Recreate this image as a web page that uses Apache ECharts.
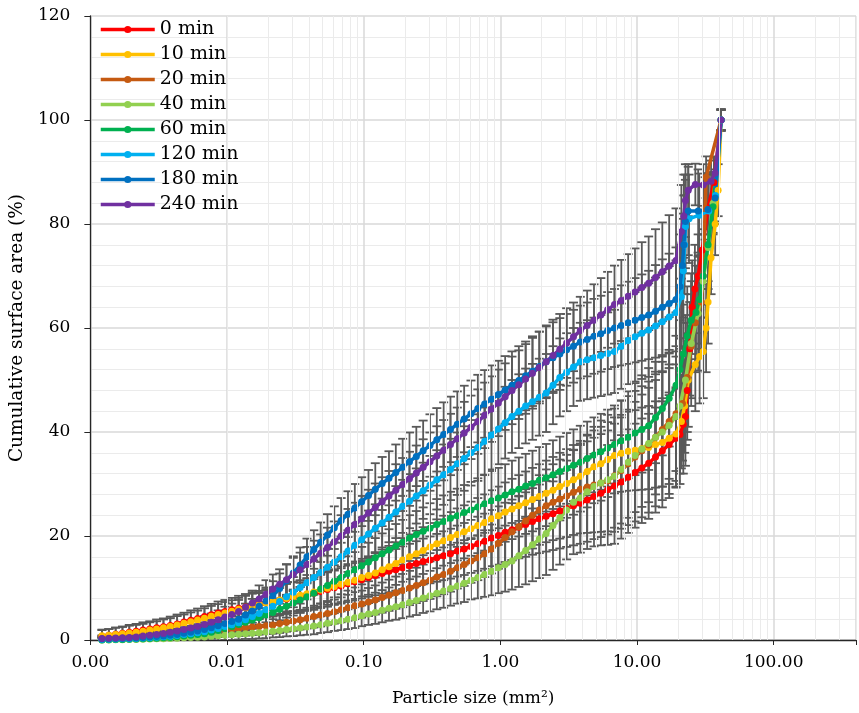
<!DOCTYPE html>
<html>
<head>
<meta charset="utf-8">
<script src="https://cdn.jsdelivr.net/npm/echarts@6/dist/echarts.min.js"></script>
<style>
  html, body { margin: 0; padding: 0; background: #fff; }
  #chart { width: 859px; height: 713px; }
</style>
</head>
<body>
<div id="chart"></div>
<script>
// particle size classes (mm2), shared by every series
var size = [
  0.001216,0.001365,0.001531,0.001718,0.001928,
  0.002163,0.002427,0.002723,0.003055,0.003428,
  0.003846,0.004315,0.004842,0.005433,0.006095,
  0.006839,0.007674,0.00861,0.009661,0.01084,
  0.01216,0.01365,0.01531,0.01718,0.01928,
  0.02163,0.02427,0.02723,0.03055,0.03428,
  0.03846,0.04315,0.04842,0.05433,0.06095,
  0.06839,0.07674,0.0861,0.09661,0.1084,
  0.1216,0.1365,0.1531,0.1718,0.1928,
  0.2163,0.2427,0.2723,0.3055,0.3428,
  0.3846,0.4315,0.4842,0.5433,0.6095,
  0.6839,0.7674,0.861,0.9661,1.084,
  1.216,1.365,1.531,1.718,1.928,
  2.163,2.427,2.723,3.055,3.428,
  3.846,4.315,4.842,5.433,6.095,
  6.839,7.674,8.61,9.661,10.84,
  12.16,13.65,15.31,17.18,19.28
];

// cumulative surface area (%)
var y0min = [
  0.7,0.9,1.1,1.3,1.5, 1.7,1.9,2.1,2.35,2.55, 2.8,3.1,3.45,3.8,4.15, 4.5,4.85,5.2,5.5,5.8,
  6.1,6.35,6.6,6.85,7.1, 7.3,7.6,7.9,8.15,8.4, 8.7,9.0,9.35,9.7,10.05, 10.4,10.8,11.2,11.6,12.0,
  12.4,12.8,13.2,13.5,13.9, 14.3,14.7,15.1,15.4,15.8, 16.2,16.6,17.1,17.5,18.0, 18.5,19.0,19.6,20.1,20.7,
  21.2,21.7,22.2,22.8,23.3, 23.8,24.3,24.8,25.3,25.8, 26.3,26.9,27.6,28.2,28.9, 29.6,30.4,31.3,32.2,33.1,
  34.0,35.2,36.4,37.6,38.8
];
var y10min = [
  0.8,0.9,1.05,1.2,1.35, 1.5,1.7,1.9,2.1,2.35, 2.6,2.9,3.2,3.5,3.85, 4.2,4.55,4.9,5.2,5.55,
  5.9,6.2,6.5,6.8,7.1, 7.4,7.7,8.0,8.3,8.6, 8.9,9.25,9.6,9.95,10.3, 10.7,11.1,11.5,12.0,12.4,
  12.9,13.5,14.1,14.7,15.4, 16.0,16.6,17.2,17.9,18.5, 19.1,19.7,20.3,20.8,21.4, 22.0,22.6,23.3,23.9,24.6,
  25.2,25.8,26.4,27.0,27.6, 28.2,28.8,29.5,30.1,30.8, 31.5,32.4,33.3,33.9,34.7, 35.5,35.9,36.3,36.5,36.8,
  37.0,37.6,38.0,38.8,39.6
];
var y20min = [
  0.2,0.24,0.28,0.32,0.36, 0.4,0.48,0.56,0.64,0.72, 0.8,0.94,1.08,1.22,1.36, 1.5,1.64,1.78,1.92,2.06,
  2.2,2.34,2.48,2.62,2.76, 2.9,3.15,3.4,3.65,3.9, 4.2,4.5,4.8,5.1,5.45, 5.8,6.2,6.6,6.9,7.3,
  7.7,8.15,8.6,9.1,9.5, 10.0,10.5,11.0,11.5,12.1, 12.6,13.2,13.9,14.5,15.2, 15.8,16.6,17.5,18.6,19.7,
  20.8,21.8,22.9,24.0,25.0, 25.8,26.5,27.1,27.7,28.4, 29.0,29.4,29.8,30.2,30.6, 31.6,32.6,33.9,35.2,36.4,
  37.5,39.0,40.5,42.0,43.5
];
var y40min = [
  0.0,0.02,0.04,0.06,0.08, 0.1,0.14,0.18,0.22,0.26, 0.3,0.36,0.42,0.48,0.54, 0.6,0.7,0.8,0.9,1.0,
  1.1,1.2,1.3,1.4,1.55, 1.7,1.85,2.0,2.15,2.3, 2.5,2.7,2.95,3.2,3.45, 3.7,4.0,4.3,4.65,5.0,
  5.3,5.7,6.1,6.4,6.8, 7.2,7.6,8.1,8.5,9.0, 9.4,9.9,10.4,10.9,11.5, 12.0,12.6,13.2,13.9,14.5,
  15.2,16.2,17.2,18.3,19.4, 20.5,22.0,23.5,25.0,26.5, 27.3,28.5,29.5,30.2,30.8, 31.5,32.8,34.2,35.5,36.7,
  37.8,39.0,40.0,41.3,43.0
];
var y60min = [
  0.0,0.04,0.08,0.12,0.16, 0.2,0.25,0.3,0.36,0.43, 0.5,0.62,0.75,0.9,1.05, 1.2,1.5,1.85,2.2,2.6,
  3.0,3.4,3.85,4.3,4.8, 5.3,5.9,6.5,7.1,7.7, 8.3,9.0,9.8,10.5,11.3, 12.0,12.8,13.5,14.3,15.0,
  15.8,16.6,17.3,18.1,18.8, 19.6,20.3,20.9,21.5,22.2, 22.8,23.4,23.9,24.5,25.0, 25.6,26.2,26.8,27.3,27.9,
  28.5,29.0,29.6,30.1,30.7, 31.2,31.8,32.4,33.0,33.6, 34.2,34.9,35.6,36.2,36.9, 37.6,38.3,39.0,39.8,40.5,
  41.2,42.8,44.5,46.5,49.0
];
var y120min = [
  0.1,0.14,0.18,0.22,0.26, 0.3,0.37,0.45,0.53,0.61, 0.7,0.86,1.04,1.22,1.4, 1.6,1.9,2.2,2.6,2.95,
  3.3,3.9,4.5,5.1,5.8, 6.5,7.4,8.3,9.2,10.1, 11.0,12.0,13.0,14.0,15.0, 16.0,17.1,18.2,19.3,20.4,
  21.5,22.5,23.6,24.6,25.7, 26.7,27.7,28.7,29.8,30.8, 31.8,32.8,33.9,34.9,36.0, 37.0,38.2,39.4,40.6,41.8,
  43.0,44.0,45.0,45.8,46.7, 47.5,49.0,50.5,51.5,52.5, 53.5,53.9,54.3,54.7,55.1, 55.5,56.5,57.6,58.3,59.0,
  59.6,60.4,61.2,62.1,63.0
];
var y180min = [
  0.2,0.23,0.27,0.3,0.35, 0.4,0.48,0.57,0.67,0.78, 0.9,1.08,1.28,1.5,1.75, 2.0,2.35,2.75,3.15,3.55,
  4.0,4.8,5.6,6.5,7.5, 8.5,9.9,11.4,12.9,14.4, 16.0,17.4,18.8,20.2,21.6, 23.0,24.2,25.4,26.6,27.8,
  29.0,30.1,31.1,32.2,33.2, 34.3,35.3,36.4,37.4,38.5, 39.5,40.5,41.5,42.5,43.5, 44.5,45.4,46.3,47.2,48.1,
  49.0,49.9,50.8,51.7,52.6, 53.5,54.3,55.0,55.8,56.5, 57.3,57.8,58.4,58.9,59.5, 60.0,60.5,61.0,61.5,62.0,
  62.5,63.2,64.0,64.7,65.5
];
var y240min = [
  0.3,0.35,0.4,0.45,0.5, 0.6,0.75,0.9,1.05,1.25, 1.5,1.75,2.0,2.3,2.6, 3.0,3.4,3.9,4.4,4.9,
  5.5,6.3,7.1,7.9,8.8, 9.8,10.7,11.6,12.6,13.5, 14.5,15.6,16.7,17.8,18.9, 20.0,21.1,22.2,23.3,24.4,
  25.5,26.6,27.7,28.8,29.9, 31.0,32.1,33.2,34.3,35.4, 36.5,37.6,38.7,39.8,40.9, 42.0,43.2,44.4,45.6,46.8,
  48.0,49.1,50.2,51.3,52.4, 53.5,54.7,55.9,57.1,58.3, 59.5,60.5,61.5,62.5,63.5, 64.5,65.3,66.1,66.9,67.8,
  68.6,69.7,70.8,71.9,73.0
];

// error bar half-widths (%), same order as the values
var e0min = [
  1.2,1.2,1.3,1.3,1.4, 1.4,1.5,1.5,1.6,1.6, 1.7,1.8,1.8,1.9,1.9, 2.0,2.1,2.2,2.2,2.3,
  2.4,2.5,2.6,2.6,2.7, 2.8,2.9,2.9,3.0,3.0, 3.1,3.2,3.2,3.3,3.3, 3.4,3.5,3.6,3.6,3.7,
  3.8,3.9,4.0,4.0,4.1, 4.2,4.3,4.4,4.5,4.6, 4.7,4.8,4.9,5.0,5.1, 5.2,5.3,5.4,5.6,5.7,
  5.8,6.0,6.2,6.4,6.6, 6.8,7.0,7.2,7.4,7.6, 7.8,8.0,8.2,8.4,8.6, 8.8,9.0,9.2,9.4,9.5,
  9.5,9.5,9.5,9.5,9.5
];
var e10min = [
  1.2,1.2,1.3,1.3,1.4, 1.4,1.4,1.5,1.5,1.6, 1.6,1.7,1.7,1.8,1.8, 1.9,2.0,2.0,2.1,2.1,
  2.2,2.3,2.4,2.4,2.5, 2.6,2.7,2.8,2.8,2.9, 3.0,3.1,3.2,3.2,3.3, 3.4,3.5,3.6,3.6,3.7,
  3.8,3.9,4.0,4.1,4.2, 4.3,4.4,4.5,4.6,4.7, 4.8,4.9,5.0,5.1,5.2, 5.3,5.4,5.5,5.6,5.7,
  5.8,5.9,6.0,6.1,6.2, 6.3,6.4,6.5,6.6,6.7, 6.8,6.9,7.0,7.1,7.2, 7.3,7.4,7.6,7.7,7.9,
  8.0,8.3,8.5,8.8,9.0
];
var e20min = [
  0.5,0.5,0.6,0.6,0.7, 0.7,0.7,0.8,0.8,0.9, 0.9,0.9,1.0,1.0,1.1, 1.1,1.2,1.2,1.3,1.3,
  1.4,1.5,1.5,1.6,1.6, 1.7,1.8,1.8,1.9,1.9, 2.0,2.1,2.2,2.2,2.3, 2.4,2.5,2.6,2.6,2.7,
  2.8,2.9,3.0,3.1,3.2, 3.3,3.4,3.5,3.6,3.7, 3.8,3.9,4.0,4.1,4.2, 4.3,4.5,4.7,4.9,5.2,
  5.5,5.8,6.1,6.4,6.7, 7.0,7.3,7.6,7.9,8.2, 8.5,8.8,9.1,9.4,9.7, 10.0,10.2,10.4,10.6,10.8,
  11.0,11.0,11.0,11.0,11.0
];
var e40min = [
  0.4,0.4,0.4,0.5,0.5, 0.5,0.5,0.6,0.6,0.6, 0.6,0.7,0.7,0.7,0.8, 0.8,0.8,0.9,0.9,1.0,
  1.0,1.0,1.1,1.1,1.2, 1.2,1.3,1.3,1.4,1.4, 1.5,1.6,1.6,1.7,1.7, 1.8,1.9,2.0,2.0,2.1,
  2.2,2.3,2.4,2.5,2.6, 2.7,2.8,2.9,3.0,3.1, 3.2,3.3,3.4,3.6,3.7, 4.0,4.3,4.6,4.9,5.2,
  5.5,6.0,6.5,7.0,7.5, 8.0,8.5,9.0,9.5,10.0, 10.5,11.0,11.5,12.0,12.5, 13.0,13.3,13.6,13.9,14.2,
  14.5,14.5,14.5,14.0,13.5
];
var e60min = [
  0.4,0.4,0.5,0.5,0.6, 0.6,0.6,0.7,0.7,0.8, 0.8,0.9,0.9,1.0,1.0, 1.1,1.2,1.3,1.3,1.4,
  1.5,1.6,1.7,1.8,1.9, 2.0,2.1,2.2,2.4,2.5, 2.6,2.7,2.8,3.0,3.1, 3.2,3.3,3.4,3.6,3.7,
  3.8,3.9,4.0,4.2,4.3, 4.4,4.5,4.6,4.8,4.9, 5.0,5.1,5.2,5.3,5.4, 5.5,5.6,5.7,5.8,5.9,
  6.0,6.1,6.2,6.3,6.4, 6.5,6.6,6.7,6.8,6.9, 7.0,7.1,7.2,7.3,7.4, 7.5,7.7,7.9,8.1,8.3,
  8.5,8.8,9.0,9.3,9.5
];
var e120min = [
  0.4,0.4,0.5,0.5,0.6, 0.6,0.7,0.7,0.8,0.8, 0.9,1.0,1.1,1.1,1.2, 1.3,1.4,1.5,1.6,1.7,
  1.8,1.9,2.1,2.2,2.4, 2.5,2.6,2.8,2.9,3.1, 3.2,3.3,3.5,3.6,3.8, 3.9,4.0,4.2,4.3,4.5,
  4.6,4.7,4.8,5.0,5.1, 5.2,5.3,5.4,5.6,5.7, 5.8,5.9,6.0,6.2,6.3, 6.4,6.5,6.6,6.8,6.9,
  7.0,7.1,7.2,7.3,7.4, 7.5,7.5,7.5,7.5,7.5, 7.5,7.6,7.7,7.8,7.9, 8.0,8.2,8.4,8.6,8.8,
  9.0,9.3,9.5,9.8,10.0
];
var e180min = [
  0.5,0.5,0.6,0.6,0.7, 0.7,0.8,0.8,0.9,0.9, 1.0,1.1,1.2,1.2,1.3, 1.4,1.5,1.6,1.8,1.9,
  2.0,2.2,2.3,2.5,2.6, 2.8,2.9,3.1,3.2,3.4, 3.5,3.7,3.8,4.0,4.1, 4.3,4.4,4.6,4.7,4.9,
  5.0,5.1,5.2,5.4,5.5, 5.6,5.7,5.8,6.0,6.1, 6.2,6.3,6.3,6.4,6.4, 6.5,6.5,6.5,6.5,6.5,
  6.5,6.6,6.6,6.7,6.7, 6.8,6.8,6.9,6.9,7.0, 7.0,7.1,7.2,7.3,7.4, 7.5,7.7,7.9,8.1,8.3,
  8.5,8.9,9.2,9.6,10.0
];
var e240min = [
  0.6,0.6,0.7,0.7,0.8, 0.8,0.9,1.0,1.0,1.1, 1.2,1.3,1.4,1.4,1.5, 1.6,1.7,1.8,2.0,2.1,
  2.2,2.3,2.4,2.6,2.7, 2.8,2.9,3.0,3.2,3.3, 3.4,3.5,3.6,3.8,3.9, 4.0,4.1,4.2,4.4,4.5,
  4.6,4.7,4.8,5.0,5.1, 5.2,5.3,5.4,5.6,5.7, 5.8,5.9,6.0,6.0,6.1, 6.2,6.3,6.3,6.4,6.4,
  6.5,6.6,6.7,6.8,6.9, 7.0,6.9,6.8,6.7,6.6, 6.5,6.7,6.9,7.1,7.3, 7.5,7.8,8.1,8.4,8.7,
  9.0,9.3,9.5,9.8,10.0
];

// coarse particles at the top end: [size, cumulative %], with their error half-widths
var tail0min = [[20.6,39.5],[21.8,41.5],[22.6,43],[23.3,48],[24.3,56],[25.3,64],[26.5,67.5],[28.0,70],[30.0,75],[33.0,83],[36.5,88],[41.2,100]];
var tailErr0min = [9.5,9.5,9.5,9.5,9,9,8.5,8,7.5,6.5,5,2];
var tail10min = [[21.1,42],[22.3,45],[23.7,50],[26.7,53],[28.7,54.5],[30.5,55.5],[32.0,60],[33.1,65],[34.8,73.5],[37.3,80],[39.2,86.5],[41.2,100]];
var tailErr10min = [9,9,9,9,9,9,8.5,8,7,6,5,2];
var tail20min = [[21.5,45.5],[23.3,50.5],[24.9,56.5],[26.7,61],[29.5,65],[30.5,70],[31.5,83],[32.0,89],[41.2,100]];
var tailErr20min = [11,10.5,10,9.5,9,8,6,4,2];
var tail40min = [[20.6,45],[22.6,50],[24.9,57],[28.0,62.8],[30.5,69],[33.1,75.5],[36.0,84],[41.2,100]];
var tailErr40min = [13,12.5,12,11,10,8,6,2];
var tail60min = [[20.6,52],[21.8,55],[23.3,58.5],[24.9,61.5],[27.0,63],[28.7,65.5],[30.5,70],[33.1,76],[36.0,83.3],[41.2,100]];
var tailErr60min = [9.5,9.5,9.5,9,9,8.5,8,7,5,2];
var tail120min = [[21.1,66],[21.8,71],[22.3,76],[22.6,79.5],[24.0,81],[28.5,81.7],[33.5,82.5],[37.5,85.5],[41.2,100]];
var tailErr120min = [10,10,9.5,9,8.5,8,7,5,2];
var tail180min = [[20.6,68],[21.5,72],[22.0,76],[22.6,80.5],[23.7,82.5],[28.0,82.5],[33.0,82.8],[37.3,85],[41.2,100]];
var tailErr180min = [10,10,9.5,9,8.5,8,7,5,2];
var tail240min = [[21.1,78.5],[22.0,81.5],[22.6,84.5],[23.7,86.5],[26.7,87.6],[30.5,87.5],[34.8,88.2],[37.3,89.8],[41.2,100]];
var tailErr240min = [9,8,7,5,4,4,4,3,2];

var names = ['0 min', '10 min', '20 min', '40 min', '60 min', '120 min', '180 min', '240 min'];
var colors = ['#FF0000', '#FFC000', '#C55A11', '#92D050', '#00B050', '#00B0F0', '#0070C0', '#7030A0'];
var values = [y0min, y10min, y20min, y40min, y60min, y120min, y180min, y240min];
var errors = [e0min, e10min, e20min, e40min, e60min, e120min, e180min, e240min];
var tails = [tail0min, tail10min, tail20min, tail40min, tail60min, tail120min, tail180min, tail240min];
var tailErrs = [tailErr0min, tailErr10min, tailErr20min, tailErr40min, tailErr60min, tailErr120min, tailErr180min, tailErr240min];

var serif = 'DejaVu Serif';

// minor vertical grid lines of the log axis (2..9 in every decade)
var minorX = [];
for (var d = -3; d <= 2; d++) {
  for (var m = 2; m <= 9; m++) {
    var v = m * Math.pow(10, d);
    if (v <= 400.0001) minorX.push({ xAxis: v });
  }
}

var series = [];
var bars = [];
series.push({
  type: 'line',
  name: 'minor',
  data: [],
  z: 0,
  silent: true,
  markLine: {
    silent: true,
    symbol: ['none', 'none'],
    label: { show: false },
    lineStyle: { color: '#EBEBEB', width: 1, type: 'solid' },
    emphasis: { disabled: true },
    animation: false,
    data: minorX
  }
});

for (var i = 0; i < names.length; i++) {
  var pts = [];
  for (var k = 0; k < size.length; k++) {
    pts.push([size[k], values[i][k]]);
    bars.push([size[k], values[i][k] - errors[i][k], values[i][k] + errors[i][k]]);
  }
  for (var t = 0; t < tails[i].length; t++) {
    pts.push(tails[i][t]);
    bars.push([tails[i][t][0], tails[i][t][1] - tailErrs[i][t], tails[i][t][1] + tailErrs[i][t]]);
  }
  series.push({
    type: 'line',
    name: names[i],
    data: pts,
    symbol: 'circle',
    symbolSize: 7,
    color: colors[i],
    lineStyle: { width: 3.5, color: colors[i] },
    itemStyle: { color: colors[i] },
    emphasis: { disabled: true },
    z: 3
  });
}

series.push({
  type: 'custom',
  name: 'error',
  data: bars,
  encode: { x: 0, y: [1, 2] },
  clip: true,
  silent: true,
  z: 2,
  renderItem: function (params, api) {
    var top = api.coord([api.value(0), api.value(2)]);
    var bot = api.coord([api.value(0), api.value(1)]);
    var cw = 4.5;
    var st = { stroke: '#595959', lineWidth: 1.8 };
    return {
      type: 'group',
      children: [
        { type: 'line', shape: { x1: top[0], y1: top[1], x2: bot[0], y2: bot[1] }, style: st },
        { type: 'line', shape: { x1: top[0] - cw, y1: top[1], x2: top[0] + cw, y2: top[1] }, style: st },
        { type: 'line', shape: { x1: bot[0] - cw, y1: bot[1], x2: bot[0] + cw, y2: bot[1] }, style: st }
      ]
    };
  }
});

var chart = echarts.init(document.getElementById('chart'));
chart.setOption({
  animation: false,
  backgroundColor: '#fff',
  textStyle: { fontFamily: serif },
  legend: {
    data: names,
    orient: 'vertical',
    left: 94,
    top: 15,
    itemWidth: 54,
    itemHeight: 9,
    itemGap: 6,
    lineStyle: { width: 3.5 },
    textStyle: { fontFamily: serif, fontSize: 19, color: '#000' }
  },
  grid: { left: 88, right: 0, top: 16, bottom: 73 },
  xAxis: {
    type: 'log',
    logBase: 10,
    min: 0.001,
    max: 400,
    name: 'Particle size (mm²)',
    nameLocation: 'middle',
    nameGap: 50,
    nameTextStyle: { fontFamily: serif, fontSize: 17, color: '#000' },
    axisLine: { show: true, onZero: false, lineStyle: { color: '#262626', width: 1.3 } },
    axisTick: { show: true, inside: false, length: 5, lineStyle: { color: '#262626' } },
    axisLabel: {
      margin: 14,
      fontFamily: serif,
      fontSize: 17,
      color: '#000',
      formatter: function (v) {
        var l = Math.log(v) / Math.LN10;
        if (Math.abs(l - Math.round(l)) > 1e-6) return '';
        return v.toFixed(2);
      }
    },
    splitLine: { show: true, lineStyle: { color: '#D9D9D9', width: 1.5 } }
  },
  yAxis: {
    type: 'value',
    min: 0,
    max: 120,
    interval: 20,
    name: 'Cumulative surface area (%)',
    nameLocation: 'middle',
    nameGap: 51,
    nameTextStyle: { fontFamily: serif, fontSize: 18.5, color: '#000' },
    axisLine: { show: true, lineStyle: { color: '#262626', width: 1.3 } },
    axisTick: { show: true, inside: false, length: 6, lineStyle: { color: '#262626' } },
    axisLabel: { margin: 20, fontFamily: serif, fontSize: 17, color: '#000' },
    splitLine: { show: true, lineStyle: { color: '#D9D9D9', width: 1.5 } },
    minorTick: { show: false, splitNumber: 5 },
    minorSplitLine: { show: true, lineStyle: { color: '#EBEBEB', width: 1 } }
  },
  series: series
});
</script>
</body>
</html>
